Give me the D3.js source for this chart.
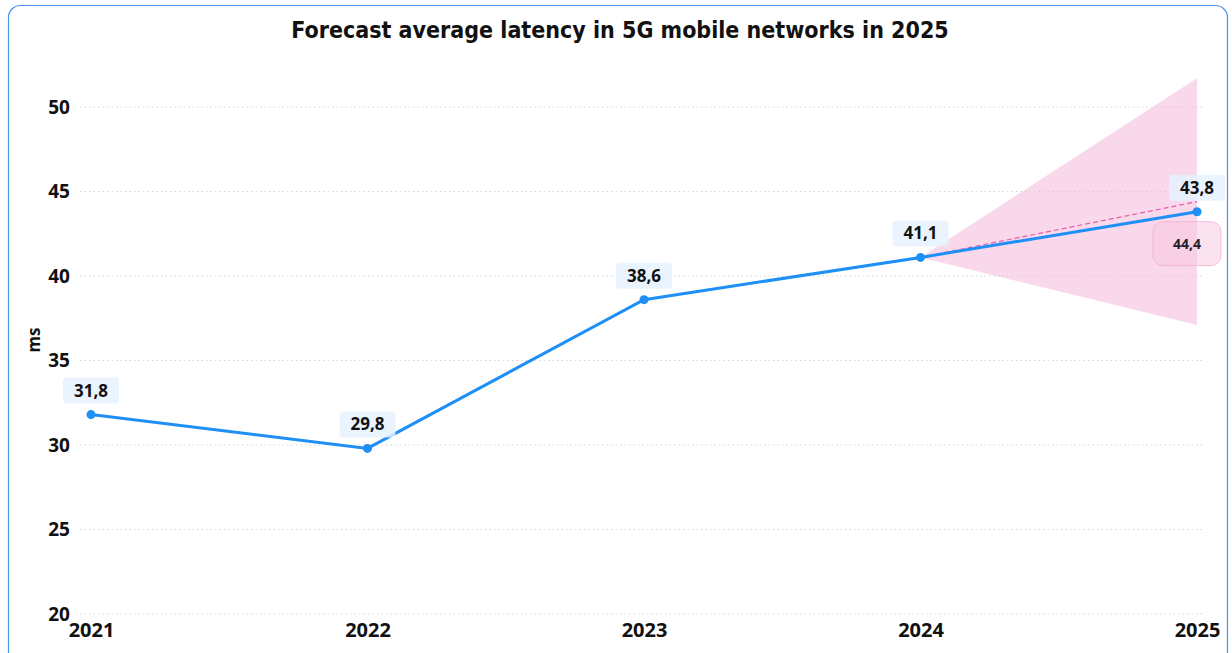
<!DOCTYPE html>
<html>
<head>
<meta charset="utf-8">
<script src="https://cdn.jsdelivr.net/npm/d3@7"></script>
<style>
  body { margin: 0; background: #fff; font-family: "DejaVu Sans", sans-serif; }
  .grid line { stroke: #d4d4d4; stroke-dasharray: 1.5 3; }
  .tick text { font-weight: bold; fill: #111; }
</style>
</head>
<body>
<svg id="chart"></svg>
<script>
// Chart data
var years = [2021, 2022, 2023, 2024, 2025];
var latency = [31.8, 29.8, 38.6, 41.1, 43.8];
var forecastYears = [2024, 2025];
var forecastValue = [41.1, 44.4];
var forecastUpper = [41.1, 51.7];
var forecastLower = [41.1, 37.1];
var yTicks = [20, 25, 30, 35, 40, 45, 50];

var width = 1232;
var height = 653;

var svg = d3.select("#chart")
    .attr("width", width)
    .attr("height", height);

// card border
svg.append("rect")
    .attr("x", 8.5)
    .attr("y", 5.5)
    .attr("width", 1219)
    .attr("height", 660)
    .attr("rx", 12)
    .attr("fill", "none")
    .attr("stroke", "#4a93e6")
    .attr("stroke-width", 1.2);

// title
svg.append("text")
    .attr("x", 620)
    .attr("y", 38)
    .attr("text-anchor", "middle")
    .attr("font-family", "'DejaVu Sans Condensed', 'DejaVu Sans', sans-serif")
    .attr("font-weight", "bold")
    .attr("font-size", 23)
    .attr("fill", "#111")
    .text("Forecast average latency in 5G mobile networks in 2025");

var scaleX = d3.scaleLinear()
    .domain([2021, 2025])
    .range([91, 1197]);

var scaleY = d3.scaleLinear()
    .domain([20, 50])
    .range([614, 107]);

// grid lines
svg.append("g")
    .attr("class", "grid")
    .selectAll("line")
    .data(yTicks)
    .enter()
    .append("line")
    .attr("x1", 80)
    .attr("x2", 1205)
    .attr("y1", function(d) { return scaleY(d); })
    .attr("y2", function(d) { return scaleY(d); });

// y axis
var yAxis = d3.axisLeft(scaleY).tickValues(yTicks).tickSize(0).tickPadding(0);
svg.append("g")
    .attr("transform", "translate(70,0)")
    .call(yAxis)
    .call(function(g) { g.select(".domain").remove(); })
    .selectAll("text")
    .attr("font-size", 19)
    .attr("font-family", "'Noto Sans', sans-serif");

// x axis
var xAxis = d3.axisBottom(scaleX).tickValues(years).tickFormat(d3.format("d")).tickSize(0).tickPadding(0);
svg.append("g")
    .attr("transform", "translate(0,623)")
    .call(xAxis)
    .call(function(g) { g.select(".domain").remove(); })
    .selectAll("text")
    .attr("font-size", 20)
    .attr("font-family", "'Noto Sans', sans-serif");

// y label
svg.append("text")
    .attr("transform", "translate(40,340)rotate(-90)")
    .attr("text-anchor", "middle")
    .attr("font-family", "'Noto Sans', sans-serif")
    .attr("font-weight", "bold")
    .attr("font-size", 17)
    .attr("fill", "#111")
    .text("ms");

// forecast band
var bandData = forecastYears.map(function(y, i) {
    return { x: y, lo: forecastLower[i], hi: forecastUpper[i], v: forecastValue[i] };
});
var area = d3.area()
    .x(function(d) { return scaleX(d.x); })
    .y0(function(d) { return scaleY(d.lo); })
    .y1(function(d) { return scaleY(d.hi); });
svg.append("path")
    .datum(bandData)
    .attr("d", area)
    .attr("fill", "#f2b8d9")
    .attr("opacity", 0.55);

// forecast dashed line
svg.append("path")
    .datum(bandData)
    .attr("d", d3.line()
        .x(function(d) { return scaleX(d.x); })
        .y(function(d) { return scaleY(d.v); }))
    .attr("fill", "none")
    .attr("stroke", "#e85aa8")
    .attr("stroke-width", 1.2)
    .attr("stroke-dasharray", "5 3");

// main line
var points = years.map(function(y, i) { return { x: y, v: latency[i] }; });
svg.append("path")
    .datum(points)
    .attr("d", d3.line()
        .x(function(d) { return scaleX(d.x); })
        .y(function(d) { return scaleY(d.v); }))
    .attr("fill", "none")
    .attr("stroke", "#1e8ff5")
    .attr("stroke-width", 3);

svg.append("g")
    .selectAll("circle")
    .data(points)
    .enter()
    .append("circle")
    .attr("cx", function(d) { return scaleX(d.x); })
    .attr("cy", function(d) { return scaleY(d.v); })
    .attr("r", 4.5)
    .attr("fill", "#1e8ff5");

// value labels
var fmt = function(v) { return d3.format(".1f")(v).replace(".", ","); };
var labels = svg.append("g")
    .selectAll("g")
    .data(points)
    .enter()
    .append("g")
    .attr("transform", function(d) {
        return "translate(" + scaleX(d.x) + "," + (scaleY(d.v) - 24) + ")";
    });
labels.append("rect")
    .attr("x", -28)
    .attr("y", -13)
    .attr("width", 56)
    .attr("height", 26)
    .attr("rx", 4)
    .attr("fill", "#e6f2ff")
    .attr("opacity", 0.85);
labels.append("text")
    .attr("text-anchor", "middle")
    .attr("dy", "0.35em")
    .attr("font-family", "'Noto Sans', sans-serif")
    .attr("font-weight", "bold")
    .attr("font-size", 17)
    .attr("fill", "#111")
    .text(function(d) { return fmt(d.v); });

// forecast label
var last = bandData[bandData.length - 1];
var fLabel = svg.append("g")
    .attr("transform", "translate(" + (scaleX(last.x) - 10) + "," + (scaleY(last.v) + 42) + ")");
fLabel.append("rect")
    .attr("x", -34)
    .attr("y", -22)
    .attr("width", 68)
    .attr("height", 44)
    .attr("rx", 10)
    .attr("fill", "#f7c6e0")
    .attr("fill-opacity", 0.5)
    .attr("stroke", "#f0a8cf")
    .attr("stroke-opacity", 0.7);
fLabel.append("text")
    .attr("text-anchor", "middle")
    .attr("dy", "0.35em")
    .attr("font-family", "'Noto Sans', sans-serif")
    .attr("font-weight", "bold")
    .attr("font-size", 14)
    .attr("fill", "#222")
    .text(fmt(last.v));
</script>
</body>
</html>
